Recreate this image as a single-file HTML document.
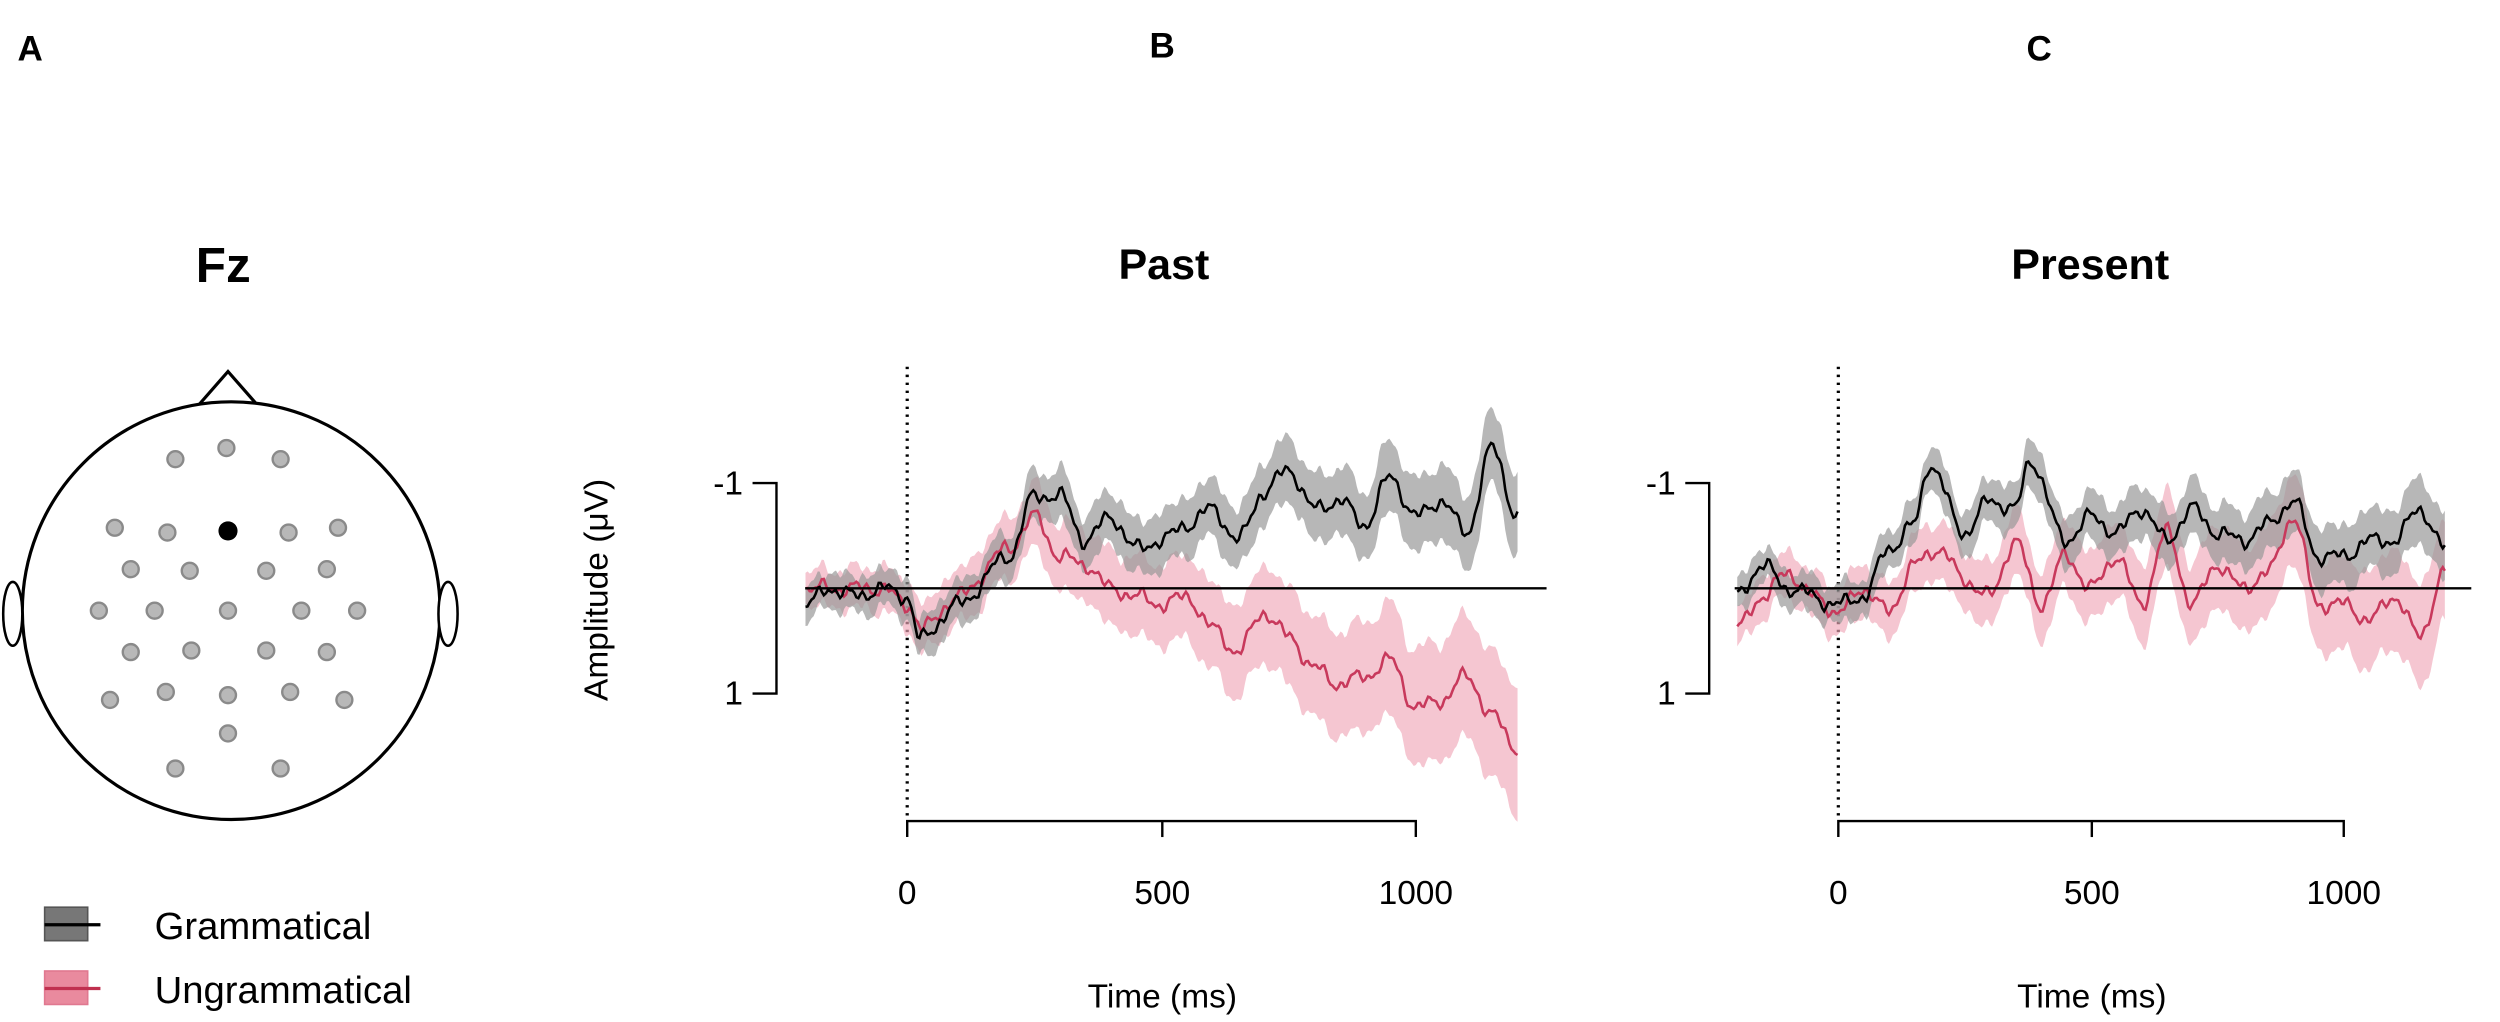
<!DOCTYPE html>
<html><head><meta charset="utf-8">
<style>html,body{margin:0;padding:0;background:#fff;}svg{display:block;}
text{font-family:"Liberation Sans",Arial,sans-serif;}</style></head>
<body>
<svg id="s" width="2500" height="1022" viewBox="0 0 1568 641" xmlns="http://www.w3.org/2000/svg">
<rect width="1568" height="641" fill="#fff"/>
<text x="11" y="38" font-size="22" font-weight="bold">A</text>
<text x="721" y="36" font-size="22" font-weight="bold">B</text>
<text x="1271" y="38" font-size="22" font-weight="bold">C</text>
<text x="140" y="177" font-size="31" font-weight="bold" text-anchor="middle">Fz</text>
<text x="730" y="175" font-size="27" font-weight="bold" text-anchor="middle">Past</text>
<text x="1311" y="175" font-size="27" font-weight="bold" text-anchor="middle">Present</text>
<polyline points="122,257 143,233 164,257" fill="none" stroke="#000" stroke-width="2"/>
<circle cx="145" cy="383" r="131" fill="#fff" stroke="#000" stroke-width="2"/>
<ellipse cx="8" cy="385" rx="6" ry="20" fill="#fff" stroke="#000" stroke-width="1.6"/>
<ellipse cx="281" cy="385" rx="6" ry="20" fill="#fff" stroke="#000" stroke-width="1.6"/>
<g id="el" fill="#b8b8b8" stroke="#8a8a8a" stroke-width="1.5"></g>
<circle cx="143" cy="333" r="6" fill="#000"/>
<rect x="28" y="569" width="27" height="21" fill="#777" stroke="#555"/>
<line x1="28" y1="580" x2="63" y2="580" stroke="#000" stroke-width="2"/>
<rect x="28" y="609" width="27" height="21" fill="#e98a9e" stroke="#e07890"/>
<line x1="28" y1="620" x2="63" y2="620" stroke="#c0304f" stroke-width="2"/>
<text x="97" y="589" font-size="24">Grammatical</text>
<text x="97" y="629" font-size="24">Ungrammatical</text>
<g stroke="#000" stroke-width="1.5" fill="none">
<polyline points="472,303 487,303 487,435 472,435"/>
<polyline points="569,525 569,515 888,515 888,525"/>
<line x1="729" y1="515" x2="729" y2="525"/>
<polyline points="1057,303 1072,303 1072,435 1057,435"/>
<polyline points="1153,525 1153,515 1470,515 1470,525"/>
<line x1="1312" y1="515" x2="1312" y2="525"/>
</g>
<line x1="569" y1="230" x2="569" y2="515" stroke="#000" stroke-width="2" stroke-dasharray="1.5,3.5"/>
<line x1="1153" y1="230" x2="1153" y2="515" stroke="#000" stroke-width="2" stroke-dasharray="1.5,3.5"/>
<g font-size="21" text-anchor="end"><text x="466" y="310">-1</text><text x="466" y="442">1</text>
<text x="1051" y="310">-1</text><text x="1051" y="442">1</text></g>
<g font-size="21" text-anchor="middle"><text x="569" y="567">0</text><text x="729" y="567">500</text><text x="888" y="567">1000</text>
<text x="1153" y="567">0</text><text x="1312" y="567">500</text><text x="1470" y="567">1000</text>
<text x="729" y="632">Time (ms)</text><text x="1312" y="632">Time (ms)</text></g>
<text transform="translate(381,370) rotate(-90)" font-size="21" text-anchor="middle">Amplitude (μV)</text>
<g id="plots"></g>
<line x1="505" y1="369" x2="970" y2="369" stroke="#000" stroke-width="1.5"/>
<line x1="1088" y1="369" x2="1550" y2="369" stroke="#000" stroke-width="1.5"/>
</svg>
<script>
var NS="http://www.w3.org/2000/svg";
var el=[[142,281],[110,288],[176,288],[72,331],[105,334],[181,334],[212,331],[82,357],[119,358],[167,358],[205,357],[62,383],[97,383],[143,383],[189,383],[224,383],[82,409],[120,408],[167,408],[205,409],[69,439],[104,434],[143,436],[182,434],[216,439],[143,460],[110,482],[176,482]];
var g=document.getElementById('el');
el.forEach(function(p){var c=document.createElementNS(NS,'circle');c.setAttribute('cx',p[0]);c.setAttribute('cy',p[1]);c.setAttribute('r',5);g.appendChild(c);});
function interp(k,t){for(var i=0;i<k.length-1;i++){if(t>=k[i][0]&&t<=k[i+1][0]){var f=(t-k[i][0])/(k[i+1][0]-k[i][0]);f=(1-Math.cos(f*Math.PI))/2;return k[i][1]+(k[i+1][1]-k[i][1])*f;}}return k[k.length-1][1];}
function noise(t,s){return 3*Math.sin(t*0.09+s)+2*Math.sin(t*0.21+s*2)+1.5*Math.sin(t*0.37+s*3);}
function series(k,x0,x1000,bw0,bw1,s,fill,fop){
 var pts=[],up=[],lo=[];
 for(var t=-200;t<=1200;t+=4){var x=x0+(x1000-x0)*t/1000;var y=369+interp(k,t)+noise(t,s);
  var w=bw0+(bw1-bw0)*(t+200)/1400+4*Math.abs(Math.sin(t*0.05+s));
  pts.push(x.toFixed(1)+','+y.toFixed(1));up.push(x.toFixed(1)+','+(y-w).toFixed(1));lo.unshift(x.toFixed(1)+','+(y+w).toFixed(1));}
 var P=document.getElementById('plots');
 var poly=document.createElementNS(NS,'polygon');poly.setAttribute('points',up.concat(lo).join(' '));poly.setAttribute('fill',fill);poly.setAttribute('fill-opacity',fop);P.appendChild(poly);
 return pts.join(' ');
}
function line(pts,stroke){var l=document.createElementNS(NS,'polyline');l.setAttribute('points',pts);l.setAttribute('fill','none');l.setAttribute('stroke',stroke);l.setAttribute('stroke-width','1.6');document.getElementById('plots').appendChild(l);}
var pg=[[-200,10],[-150,0],[-100,5],[-50,0],[0,5],[25,32],[100,10],[200,-20],[250,-58],[300,-58],[350,-30],[400,-45],[450,-25],[500,-30],[550,-40],[600,-50],[650,-30],[700,-60],[750,-75],[800,-50],[850,-55],[900,-40],[950,-70],[1000,-45],[1050,-55],[1100,-35],[1150,-88],[1200,-45]];
var pp=[[-200,0],[-50,0],[0,10],[30,25],[100,5],[200,-25],[250,-45],[300,-20],[350,-15],[400,0],[450,5],[500,10],[550,5],[600,25],[650,40],[700,15],[750,30],[800,50],[850,60],[900,55],[950,45],[1000,75],[1050,70],[1100,55],[1150,80],[1200,100]];
var rg=[[-200,5],[-150,-15],[-100,0],[0,10],[50,5],[100,-25],[150,-40],[180,-78],[250,-35],[300,-55],[350,-50],[380,-80],[450,-30],[500,-45],[550,-35],[600,-50],[650,-30],[700,-50],[750,-35],[800,-30],[850,-40],[900,-55],[950,-20],[1000,-20],[1050,-30],[1100,-30],[1150,-50],[1200,-25]];
var rp=[[-200,25],[-150,5],[-100,-10],[-50,5],[0,15],[50,0],[100,15],[150,-15],[200,-25],[250,-5],[300,5],[350,-30],[400,10],[450,-20],[500,0],[550,-20],[600,10],[650,-35],[700,10],[750,-15],[800,0],[850,-10],[900,-45],[950,10],[1000,10],[1050,20],[1100,5],[1150,30],[1200,-10]];
var a=series(pp,569,888,8,38,1,'#f0a8b8',0.65);
var b=series(pg,569,888,8,22,2,'#999',0.7);
line(a,'#c8395c');line(b,'#000');
var c=series(rp,1153,1470,10,30,3,'#f0a8b8',0.65);
var d=series(rg,1153,1470,8,18,4,'#999',0.7);
line(c,'#c8395c');line(d,'#000');
</script>
</body></html>
